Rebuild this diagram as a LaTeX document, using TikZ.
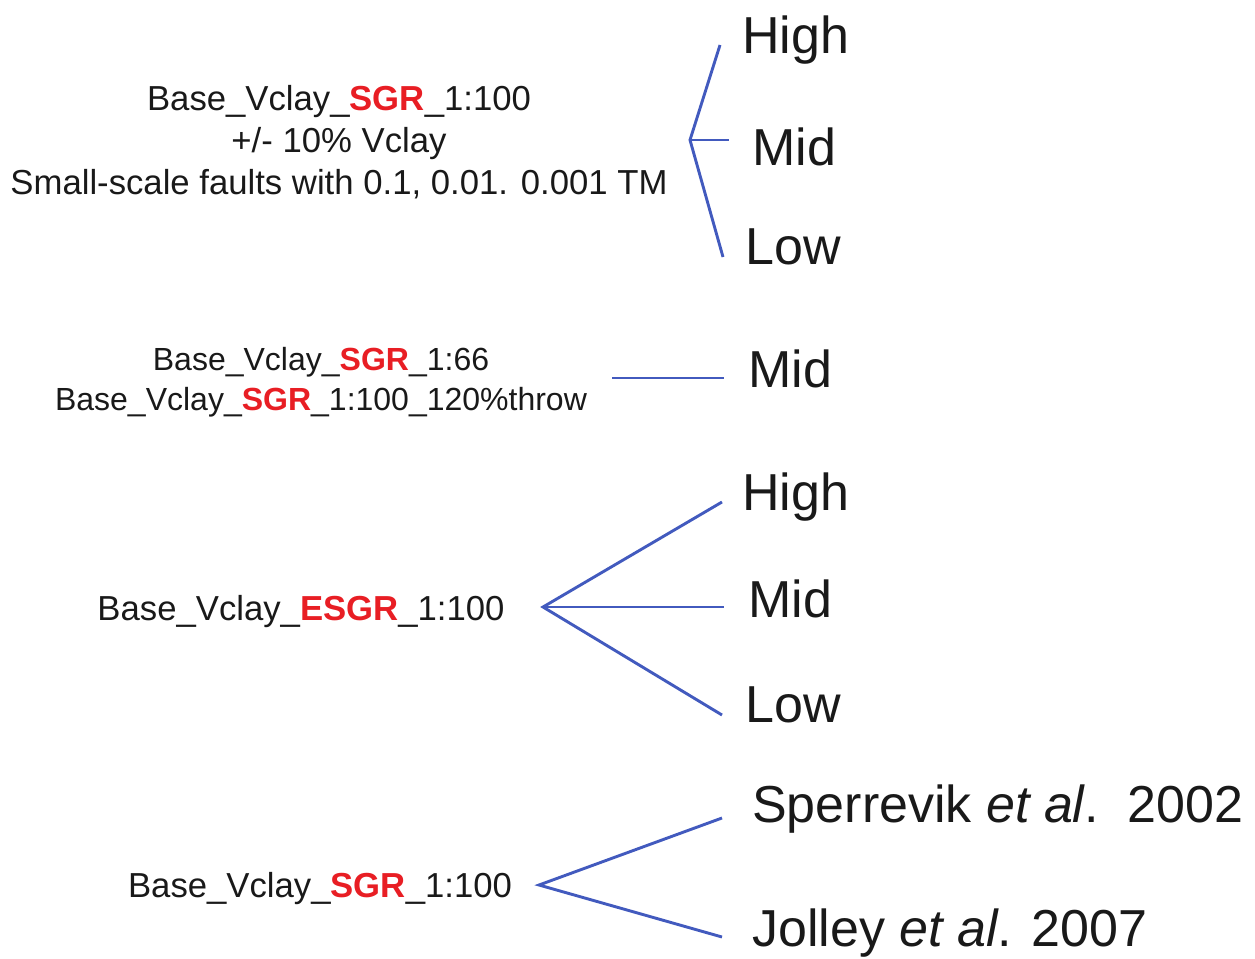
\documentclass[tikz,border=0pt]{standalone}
\usepackage{fontspec}
\setmainfont{Liberation Sans}
\definecolor{txt}{RGB}{25,25,25}
\definecolor{hl}{RGB}{232,30,36}
\definecolor{br}{RGB}{66,90,190}
\newcommand{\hlt}[1]{\textcolor{hl}{\bfseries #1}}
\begin{document}
\begin{tikzpicture}[x=1pt,y=-1pt,
  small/.style={inner sep=0pt,anchor=base,text=txt,font=\fontsize{34.7}{42}\selectfont},
  smaller/.style={small,font=\fontsize{32}{40}\selectfont},
  big/.style={inner sep=0pt,anchor=base west,text=txt,font=\fontsize{52}{60}\selectfont},
  branch/.style={draw=br,line width=2.9pt}]
\useasboundingbox (0,0) rectangle (1255,958);
% group 1
\node[small] (g1a) at (339,110) {Base\_Vclay\_\hlt{SGR}\_1:100};
\node[small] (g1b) at (339,152) {+/- 10\% Vclay};
\node[small] (g1c) at (339,194) {Small-scale faults with 0.1, 0.01. 0.001 TM};
\node[big] (h1) at (742,54) {High};
\node[big] (m1) at (752,165) {Mid};
\node[big] (l1) at (745,264) {Low};
\coordinate (b1) at (690,140);
\coordinate (e1h) at (720,45);
\coordinate (e1m) at (729,140);
\coordinate (e1l) at (723,257);
\draw[branch] (e1h) -- (b1) -- (e1l);
\draw[branch] (b1) -- (e1m);
% group 2
\node[smaller] (g2a) at (321,370) {Base\_Vclay\_\hlt{SGR}\_1:66};
\node[smaller] (g2b) at (321,410) {Base\_Vclay\_\hlt{SGR}\_1:100\_120\%throw};
\node[big] (m2) at (748,387) {Mid};
\coordinate (b2) at (612,378);
\coordinate (e2m) at (724,378);
\draw[branch] (b2) -- (e2m);
% group 3
\node[small] (g3) at (301,620) {Base\_Vclay\_\hlt{ESGR}\_1:100};
\node[big] (h3) at (742,510) {High};
\node[big] (m3) at (748,617) {Mid};
\node[big] (l3) at (745,722) {Low};
\coordinate (b3) at (543,607);
\coordinate (e3h) at (722,502);
\coordinate (e3m) at (724,607);
\coordinate (e3l) at (722,715);
\draw[branch] (e3h) -- (b3) -- (e3l);
\draw[branch] (b3) -- (e3m);
% group 4
\node[small] (g4) at (320,897) {Base\_Vclay\_\hlt{SGR}\_1:100};
\node[big] (s4) at (752,822) {Sperrevik \textit{et al}.\ \ 2002};
\node[big] (j4) at (752,946) {Jolley \textit{et al}. 2007};
\coordinate (b4) at (539,885);
\coordinate (e4s) at (722,818);
\coordinate (e4j) at (722,937);
\draw[branch] (e4s) -- (b4) -- (e4j);
\end{tikzpicture}
\end{document}
